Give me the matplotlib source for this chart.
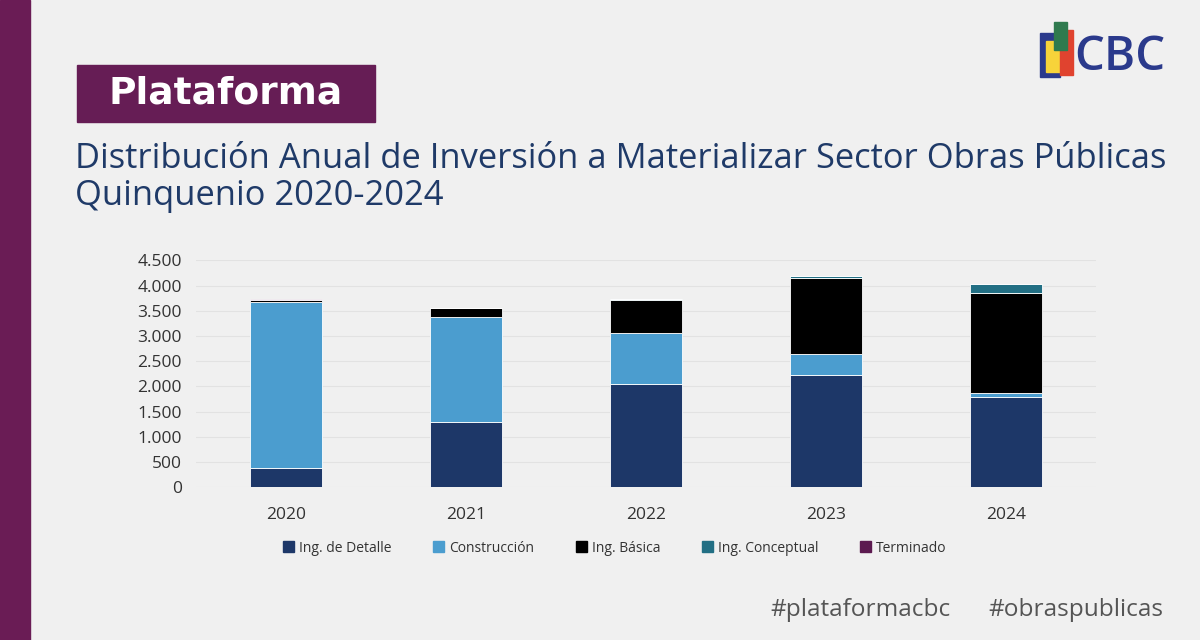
import matplotlib.pyplot as plt
import matplotlib.patches as mpatches
from matplotlib.ticker import FuncFormatter
import numpy as np

# datos (inversión por año y etapa)
years = ['2020', '2021', '2022', '2023', '2024']
series = ['Ing. de Detalle', 'Construcción', 'Ing. Básica', 'Ing. Conceptual', 'Terminado']
detalle = [380, 1290, 2050, 2235, 1800]
construccion = [3300, 2095, 1005, 405, 60]
basica = [40, 165, 665, 1500, 1985]
conceptual = [0, 10, 10, 55, 180]
terminado = [15, 0, 0, 0, 0]
colors = ['#1d3768', '#4b9dcf', '#000000', '#226f84', '#5c1a50']

bg = '#f0f0f0'
purple = '#661d55'
navy = '#1f3a68'
font = 'Open Sans'

fig = plt.figure(figsize=(12, 6.4), dpi=100, facecolor=bg)

# capa de fondo en coordenadas de pixel
ax_bg = fig.add_axes([0, 0, 1, 1], zorder=0)
ax_bg.set_xlim(0, 1200)
ax_bg.set_ylim(640, 0)
ax_bg.axis('off')
ax_bg.add_patch(mpatches.Rectangle((0, 0), 30, 640, color='#6a1c55'))
ax_bg.add_patch(mpatches.Rectangle((77, 65), 298, 57, color=purple))
ax_bg.text(226, 94, 'Plataforma', color='white', fontsize=27, fontweight='bold',
           family='DejaVu Sans', va='center', ha='center')
ax_bg.text(75, 168, 'Distribución Anual de Inversión a Materializar Sector Obras Públicas',
           color=navy, fontsize=24.8, family=font, va='baseline', ha='left')
ax_bg.text(75, 205, 'Quinquenio 2020-2024', color=navy, fontsize=24.8, family=font,
           va='baseline', ha='left')
ax_bg.text(770, 610, '#plataformacbc', color='#555555', fontsize=17.6, family=font, va='center')
ax_bg.text(1163, 610, '#obraspublicas', color='#555555', fontsize=17.6, family=font,
           va='center', ha='right')

# logo CBC
ax_bg.add_patch(mpatches.Rectangle((1040, 33), 20, 44, color='#2b3a8c'))
ax_bg.add_patch(mpatches.Rectangle((1046, 41), 14, 31, color='#f7d33a'))
ax_bg.add_patch(mpatches.Rectangle((1060, 30), 13, 45, color='#e0432f'))
ax_bg.add_patch(mpatches.Rectangle((1054, 22), 13, 28, color='#2f7a4e'))
ax_bg.text(1074, 57, 'CBC', color='#2b3a8c', fontsize=34, fontweight='semibold',
           family=font, va='center', ha='left')

# gráfico de barras apiladas
ax = fig.add_axes([196 / 1200, 1 - 487.3 / 640, 900 / 1200, 227 / 640], zorder=1)
ax.set_facecolor('none')
x = np.arange(len(years))
bottom = np.zeros(len(years))
for name, vals, c in zip(series, [detalle, construccion, basica, conceptual, terminado], colors):
    ax.bar(x, vals, 0.4, bottom=bottom, color=c, edgecolor='white', linewidth=0.6, label=name)
    bottom += np.array(vals)

ax.set_xlim(-0.5, 4.5)
ax.set_ylim(0, 4500)
ax.set_yticks(np.arange(0, 4501, 500))
ax.yaxis.set_major_formatter(FuncFormatter(lambda v, p: f'{int(v):,}'.replace(',', '.')))
ax.set_xticks(x)
ax.set_xticklabels(years)
ax.grid(axis='y', color='#e2e2e2', linewidth=0.8)
ax.set_axisbelow(True)
for s in ax.spines.values():
    s.set_visible(False)
ax.tick_params(length=0, labelsize=12.5, labelcolor='#333333')
ax.tick_params(axis='x', pad=14)
ax.tick_params(axis='y', pad=10)
for lab in ax.get_xticklabels() + ax.get_yticklabels():
    lab.set_family(font)

handles = [mpatches.Patch(color=c) for c in colors]
fig.legend(handles, series, loc='center', bbox_to_anchor=(615 / 1200, 1 - 548 / 640),
           ncol=5, frameon=False, prop={'family': font, 'size': 10},
           handlelength=0.8, handleheight=0.8, handletextpad=0.35, columnspacing=3.0,
           labelcolor='#333333')

fig.savefig('out.png', dpi=100, facecolor=bg)
